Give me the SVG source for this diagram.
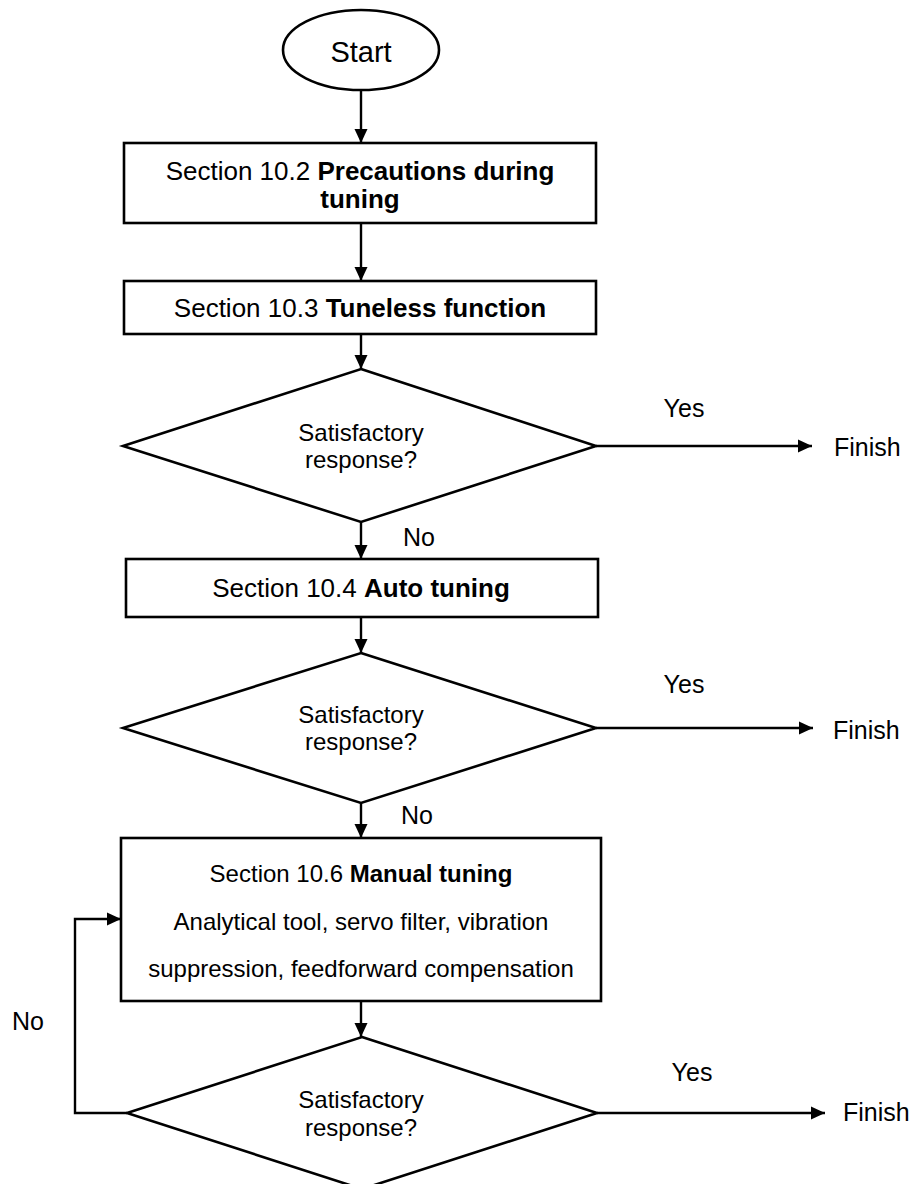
<svg xmlns="http://www.w3.org/2000/svg" width="915" height="1184" viewBox="0 0 915 1184">
<defs>
<marker id="arr" markerWidth="15" markerHeight="14" refX="14" refY="7" orient="auto" markerUnits="userSpaceOnUse">
<path d="M0,0.5 L14,7 L0,13.5 Z" fill="#000"/>
</marker>
<style>
.shape{fill:#fff;stroke:#000;stroke-width:2.6}
.conn{fill:none;stroke:#000;stroke-width:2.4}
text{font-family:"Liberation Sans",Arial,sans-serif;fill:#000}
.bx{font-size:26px;text-anchor:middle}
.bx4{font-size:24px;text-anchor:middle}
.dt{font-size:24px;text-anchor:middle}
.lb{font-size:25px}
.b{font-weight:bold}
</style>
</defs>
<rect width="915" height="1184" fill="#fff"/>
<g id="connectors">
<line class="conn" x1="361" y1="91" x2="361" y2="143" marker-end="url(#arr)"/>
<line class="conn" x1="361" y1="223" x2="361" y2="281" marker-end="url(#arr)"/>
<line class="conn" x1="361" y1="334" x2="361" y2="369" marker-end="url(#arr)"/>
<line class="conn" x1="361" y1="522" x2="361" y2="559" marker-end="url(#arr)"/>
<line class="conn" x1="361" y1="617" x2="361" y2="653" marker-end="url(#arr)"/>
<line class="conn" x1="361" y1="803" x2="361" y2="838" marker-end="url(#arr)"/>
<line class="conn" x1="361" y1="1001" x2="361" y2="1037" marker-end="url(#arr)"/>
<line class="conn" x1="596" y1="446" x2="812" y2="446" marker-end="url(#arr)"/>
<line class="conn" x1="596" y1="728" x2="813" y2="728" marker-end="url(#arr)"/>
<line class="conn" x1="597" y1="1113" x2="825" y2="1113" marker-end="url(#arr)"/>
<polyline class="conn" points="127,1113 75,1113 75,919 121,919" marker-end="url(#arr)"/>
<text class="lb" x="684" y="417" text-anchor="middle">Yes</text>
<text class="lb" x="834" y="456">Finish</text>
<text class="lb" x="403" y="546">No</text>
<text class="lb" x="684" y="693" text-anchor="middle">Yes</text>
<text class="lb" x="833" y="739">Finish</text>
<text class="lb" x="401" y="824">No</text>
<text class="lb" x="692" y="1081" text-anchor="middle">Yes</text>
<text class="lb" x="843" y="1121">Finish</text>
<text class="lb" x="12" y="1030">No</text>
</g>
<g id="start">
<ellipse class="shape" cx="361" cy="50" rx="78" ry="40"/>
<text x="361" y="62" font-size="29" text-anchor="middle">Start</text>
</g>
<g id="box1">
<rect class="shape" x="124" y="143" width="472" height="80"/>
<text class="bx" x="360" y="180">Section 10.2 <tspan class="b">Precautions during</tspan></text>
<text class="bx b" x="360" y="208">tuning</text>
</g>
<g id="box2">
<rect class="shape" x="124" y="281" width="472" height="53"/>
<text class="bx" x="360" y="317">Section 10.3 <tspan class="b">Tuneless function</tspan></text>
</g>
<g id="decision1">
<polygon class="shape" points="361,369 596,446 361,522 123,446"/>
<text class="dt" x="361" y="441">Satisfactory</text>
<text class="dt" x="361" y="468">response?</text>
</g>
<g id="box3">
<rect class="shape" x="126" y="559" width="472" height="58"/>
<text class="bx" x="361" y="597">Section 10.4 <tspan class="b">Auto tuning</tspan></text>
</g>
<g id="decision2">
<polygon class="shape" points="361,653 596,728 361,803 123,728"/>
<text class="dt" x="361" y="723">Satisfactory</text>
<text class="dt" x="361" y="750">response?</text>
</g>
<g id="box4">
<rect class="shape" x="121" y="838" width="480" height="163"/>
<text class="bx4" x="361" y="882">Section 10.6 <tspan class="b">Manual tuning</tspan></text>
<text class="bx4" x="361" y="930">Analytical tool, servo filter, vibration</text>
<text class="bx4" x="361" y="977">suppression, feedforward compensation</text>
</g>
<g id="decision3">
<polygon class="shape" points="362,1037 597,1113 362,1189 127,1113"/>
<text class="dt" x="361" y="1108">Satisfactory</text>
<text class="dt" x="361" y="1136">response?</text>
</g>
</svg>
